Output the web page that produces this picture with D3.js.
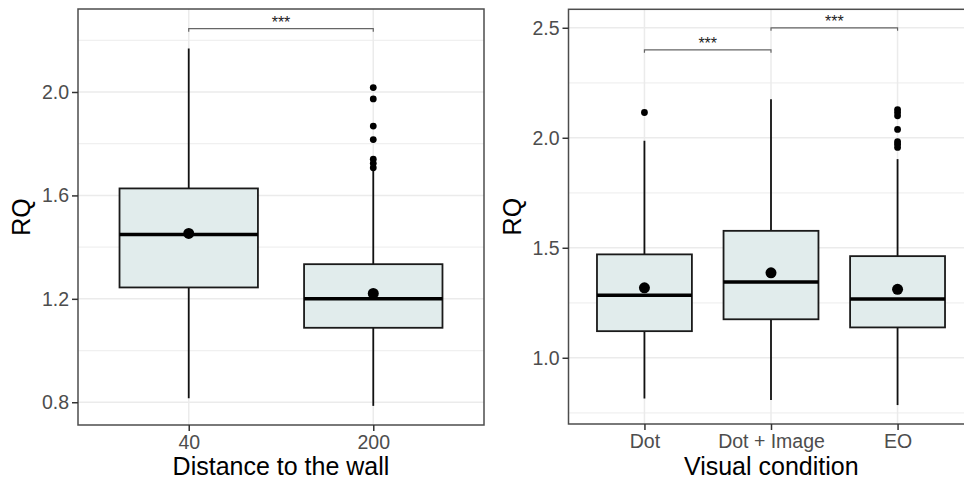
<!DOCTYPE html>
<html>
<head>
<meta charset="utf-8">
<script src="https://cdn.jsdelivr.net/npm/d3@7"></script>
<style>
  body { margin: 0; background: #fff; }
  text { font-family: "Liberation Sans", Arial, sans-serif; }
</style>
</head>
<body>
<svg id="chart" width="964" height="483"></svg>
<script>
// Left panel: distance to the wall
const distCategories = ['40', '200'];
const distLow = [0.815, 0.786];
const distQ1 = [1.244, 1.088];
const distMedian = [1.449, 1.200];
const distQ3 = [1.627, 1.334];
const distHigh = [2.168, 1.700];
const distMean = [1.453, 1.221];
const distOutliers = [[], [2.017, 1.973, 1.868, 1.816, 1.740, 1.724, 1.707]];
const distTicks = [0.8, 1.2, 1.6, 2.0];
const distMinor = [1.0, 1.4, 1.8, 2.2];

// Right panel: visual condition
const visCategories = ['Dot', 'Dot + Image', 'EO'];
const visLow = [0.815, 0.808, 0.785];
const visQ1 = [1.121, 1.175, 1.138];
const visMedian = [1.284, 1.345, 1.267];
const visQ3 = [1.470, 1.577, 1.462];
const visHigh = [1.986, 2.175, 1.903];
const visMean = [1.318, 1.386, 1.311];
const visOutliers = [[2.115], [], [2.128, 2.115, 2.100, 2.038, 1.982, 1.971, 1.956]];
const visTicks = [1.0, 1.5, 2.0, 2.5];
const visMinor = [0.75, 1.25, 1.75, 2.25];

// significance brackets: [from, to, height]
const distBrackets = [['40', '200', 2.245]];
const visBrackets = [['Dot', 'Dot + Image', 2.40], ['Dot + Image', 'EO', 2.50]];

const svg = d3.select('#chart');

function drawPanel(opt) {
  const g = svg.append('g');
  const x = d3.scalePoint().domain(opt.cats).range([opt.x0, opt.x1]).padding(0.6);
  const y = d3.scaleLinear().domain(opt.yDomain).range([opt.y1, opt.y0]);
  const boxW = x.step() * 0.75;

  // grid
  g.selectAll('line.minor').data(opt.minor).enter().append('line')
    .attr('x1', opt.x0).attr('x2', opt.x1)
    .attr('y1', d => y(d)).attr('y2', d => y(d))
    .attr('stroke', '#f0f0f0').attr('stroke-width', 1.2);
  g.selectAll('line.major').data(opt.ticks).enter().append('line')
    .attr('x1', opt.x0).attr('x2', opt.x1)
    .attr('y1', d => y(d)).attr('y2', d => y(d))
    .attr('stroke', '#ebebeb').attr('stroke-width', 1.5);
  g.selectAll('line.vgrid').data(opt.cats).enter().append('line')
    .attr('x1', d => x(d)).attr('x2', d => x(d))
    .attr('y1', opt.y0).attr('y2', opt.y1)
    .attr('stroke', '#ebebeb').attr('stroke-width', 1.5);

  const rows = opt.cats.map((c, i) => ({
    cat: c, low: opt.low[i], q1: opt.q1[i], med: opt.med[i], q3: opt.q3[i],
    high: opt.high[i], mean: opt.mean[i], out: opt.out[i]
  }));

  // whiskers
  g.selectAll('line.whisk').data(rows).enter().append('line')
    .attr('x1', d => x(d.cat)).attr('x2', d => x(d.cat))
    .attr('y1', d => y(d.high)).attr('y2', d => y(d.low))
    .attr('stroke', '#111').attr('stroke-width', 1.8);

  // boxes
  g.selectAll('rect.box').data(rows).enter().append('rect')
    .attr('x', d => x(d.cat) - boxW / 2)
    .attr('y', d => y(d.q3))
    .attr('width', boxW)
    .attr('height', d => y(d.q1) - y(d.q3))
    .attr('fill', '#e1ecec')
    .attr('stroke', '#1a1a1a')
    .attr('stroke-width', 1.8);

  g.selectAll('line.med').data(rows).enter().append('line')
    .attr('x1', d => x(d.cat) - boxW / 2).attr('x2', d => x(d.cat) + boxW / 2)
    .attr('y1', d => y(d.med)).attr('y2', d => y(d.med))
    .attr('stroke', '#000').attr('stroke-width', 3.5);

  // outliers
  rows.forEach(r => {
    g.selectAll(null).data(r.out).enter().append('circle')
      .attr('cx', x(r.cat)).attr('cy', d => y(d))
      .attr('r', 3.4).attr('fill', '#000');
  });

  // mean points
  g.selectAll('circle.mean').data(rows).enter().append('circle')
    .attr('cx', d => x(d.cat)).attr('cy', d => y(d.mean))
    .attr('r', 5.5).attr('fill', '#000');

  // significance brackets
  opt.brackets.forEach(b => {
    const xa = x(b[0]), xb = x(b[1]), yb = y(b[2]);
    g.append('path')
      .attr('d', `M${xa},${yb + 3}V${yb}H${xb}V${yb + 3}`)
      .attr('fill', 'none').attr('stroke', '#666').attr('stroke-width', 1.2);
    g.append('text')
      .attr('x', (xa + xb) / 2).attr('y', yb - 1)
      .attr('text-anchor', 'middle')
      .attr('font-size', '16px').attr('fill', '#222')
      .text('***');
  });

  // panel border
  g.append('rect')
    .attr('x', opt.x0).attr('y', opt.y0)
    .attr('width', opt.x1 - opt.x0).attr('height', opt.y1 - opt.y0)
    .attr('fill', 'none').attr('stroke', '#4d4d4d').attr('stroke-width', 1.5);

  // axes
  const yAxis = g.append('g')
    .attr('transform', `translate(${opt.x0},0)`)
    .call(d3.axisLeft(y).tickValues(opt.ticks).tickFormat(d3.format('.1f')).tickSizeOuter(0).tickSize(6).tickPadding(3));
  yAxis.select('.domain').remove();
  yAxis.selectAll('line').attr('stroke', '#333').attr('stroke-width', 1.5);
  yAxis.selectAll('text').attr('fill', '#4d4d4d').attr('font-size', '19.5px')
    .style('font-family', '"Liberation Sans", Arial, sans-serif');

  const xAxis = g.append('g')
    .attr('transform', `translate(0,${opt.y1})`)
    .call(d3.axisBottom(x).tickSizeOuter(0).tickSize(6).tickPadding(4));
  xAxis.select('.domain').remove();
  xAxis.selectAll('line').attr('stroke', '#333').attr('stroke-width', 1.5);
  xAxis.selectAll('text').attr('fill', '#4d4d4d').attr('font-size', '19.5px')
    .style('font-family', '"Liberation Sans", Arial, sans-serif');

  // titles
  g.append('text')
    .attr('x', (opt.x0 + Math.min(opt.x1, 964)) / 2 + opt.titleShift)
    .attr('y', 475)
    .attr('text-anchor', 'middle')
    .attr('font-size', '25px').attr('fill', '#000')
    .text(opt.xTitle);
  g.append('text')
    .attr('transform', `translate(${opt.yTitleX},${(opt.y0 + opt.y1) / 2}) rotate(-90)`)
    .attr('text-anchor', 'middle')
    .attr('font-size', '25px').attr('fill', '#000')
    .text('RQ');
}

drawPanel({
  cats: distCategories, low: distLow, q1: distQ1, med: distMedian, q3: distQ3,
  high: distHigh, mean: distMean, out: distOutliers,
  ticks: distTicks, minor: distMinor, brackets: distBrackets,
  x0: 78, x1: 484, y0: 9, y1: 425, yDomain: [0.712, 2.321],
  xTitle: 'Distance to the wall', titleShift: 0, yTitleX: 30
});

drawPanel({
  cats: visCategories, low: visLow, q1: visQ1, med: visMedian, q3: visQ3,
  high: visHigh, mean: visMean, out: visOutliers,
  ticks: visTicks, minor: visMinor, brackets: visBrackets,
  x0: 568.5, x1: 973.5, y0: 9.3, y1: 424, yDomain: [0.699, 2.584],
  xTitle: 'Visual condition', titleShift: 5, yTitleX: 521
});
</script>
</body>
</html>
